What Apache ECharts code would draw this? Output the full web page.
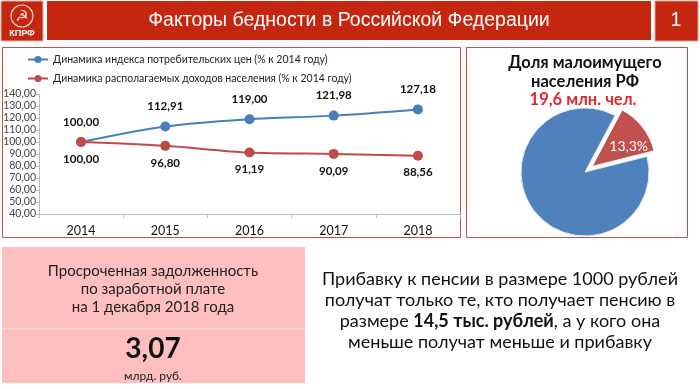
<!DOCTYPE html>
<html><head><meta charset="utf-8">
<script src="https://cdn.jsdelivr.net/npm/echarts@6/dist/echarts.min.js"></script>
<style>html,body{margin:0;padding:0;background:#fff}#c{width:700px;height:389px}</style>
</head><body><div id="c"></div>
<script>
var years = ['2014', '2015', '2016', '2017', '2018'];
var cpiValues = [100.00, 112.91, 119.00, 121.98, 127.18];
var incomeValues = [100.00, 96.80, 91.19, 90.09, 88.56];
var seriesNames = ['Динамика индекса потребительских цен (% к 2014 году)', 'Динамика располагаемых доходов населения (% к 2014 году)'];
var pieNames = ['Малоимущие', 'Остальное население'];
var pieValues = [13.3, 86.7];
var titleText = 'Факторы бедности в Российской Федерации';
var pageNumber = '1';
var pieTitle = 'Доля малоимущего\nнаселения РФ';
var pieSubtitle = '19,6 млн. чел.';
var debtTitle = 'Просроченная задолженность\nпо заработной плате\nна 1 декабря 2018 года';
var debtValue = '3,07';
var debtUnit = 'млрд. руб.';
var pensionText = 'Прибавку к пенсии в размере 1000 рублей\nполучат только те, кто получает пенсию в\nразмере {b|14,5 тыс. рублей}, а у кого она\nменьше получат меньше и прибавку';

function fmt(v) { return Number(v).toFixed(2).replace('.', ','); }

var chart = echarts.init(document.getElementById('c'), null, {renderer: 'canvas'});
var red = '#C4260F';
var option = {
  animation: false,
  backgroundColor: '#fff',
  graphic: [
    {type: 'rect', shape: {x: 1, y: 1, width: 42, height: 40}, style: {fill: red, stroke: '#e8b0a8', lineWidth: 1}},
    {type: 'circle', shape: {cx: 22, cy: 16, r: 11}, style: {fill: 'none', stroke: '#f4d0c8', lineWidth: 1.2}},
    {type: 'text', style: {text: '☭', x: 22, y: 17, align: 'center', verticalAlign: 'middle', fontSize: 15, fontFamily: 'DejaVu Sans', fill: '#f6dcd4'}},
    {type: 'text', style: {text: 'КПРФ', x: 22, y: 34, align: 'center', verticalAlign: 'middle', fontSize: 9, fontWeight: 'bold', fontFamily: 'Liberation Sans', fill: '#fff'}},
    {type: 'rect', shape: {x: 47, y: 1, width: 604, height: 39}, style: {fill: red}},
    {type: 'text', style: {text: titleText, x: 349, y: 21, align: 'center', verticalAlign: 'middle', fontSize: 19.5, fontFamily: 'Liberation Sans', fill: '#fff'}},
    {type: 'rect', shape: {x: 655, y: 1, width: 43, height: 40}, style: {fill: red, stroke: '#e0a090', lineWidth: 1}},
    {type: 'text', style: {text: pageNumber, x: 676, y: 21, align: 'center', verticalAlign: 'middle', fontSize: 19.5, fontFamily: 'Liberation Sans', fill: '#fff'}},
    {type: 'rect', shape: {x: 2.5, y: 47.5, width: 458, height: 190}, style: {fill: 'none', stroke: '#C0504D', lineWidth: 1}},
    {type: 'rect', shape: {x: 466.5, y: 47.5, width: 221, height: 190}, style: {fill: 'none', stroke: '#C0504D', lineWidth: 1}},
    {type: 'text', style: {text: pieTitle, x: 585, y: 72, align: 'center', verticalAlign: 'middle', lineHeight: 19, fontSize: 16.5, fontWeight: 'bold', fontFamily: 'Lato', fill: '#111'}},
    {type: 'text', style: {text: pieSubtitle, x: 583, y: 100, align: 'center', verticalAlign: 'middle', fontSize: 16.5, fontWeight: 'bold', fontFamily: 'Lato', fill: '#E02A2A'}},
    {type: 'rect', shape: {x: 2, y: 247, width: 303, height: 136}, style: {fill: '#FFBFBF'}},
    {type: 'line', shape: {x1: 2, y1: 328.5, x2: 305, y2: 328.5}, style: {stroke: '#FFE2E2', lineWidth: 1}},
    {type: 'text', style: {text: debtTitle, x: 153, y: 289, align: 'center', verticalAlign: 'middle', lineHeight: 18, fontSize: 15, fontFamily: 'Lato', fill: '#222'}},
    {type: 'text', style: {text: debtValue, x: 153, y: 349, align: 'center', verticalAlign: 'middle', fontSize: 28, fontWeight: 'bold', fontFamily: 'Lato', fill: '#111'}},
    {type: 'text', style: {text: debtUnit, x: 153, y: 376, align: 'center', verticalAlign: 'middle', fontSize: 12, fontFamily: 'Lato', fill: '#222'}},
    {type: 'text', style: {text: pensionText, x: 500, y: 311, align: 'center', verticalAlign: 'middle', lineHeight: 21, fontSize: 18, fontFamily: 'Lato', fill: '#111',
      rich: {b: {fontSize: 18, fontWeight: 'bold', fontFamily: 'Lato', fill: '#111'}}}}
  ],
  legend: {
    orient: 'vertical', left: 22, top: 49, itemGap: 8, itemWidth: 20, itemHeight: 9,
    textStyle: {fontSize: 10.5, fontFamily: 'Lato', color: '#222'},
    data: seriesNames
  },
  grid: {left: 39, right: 240, top: 94, bottom: 175, containLabel: false},
  xAxis: {
    type: 'category', data: years, boundaryGap: true,
    axisLine: {lineStyle: {color: '#BFBFBF'}},
    axisTick: {show: true, length: 4, lineStyle: {color: '#BFBFBF'}},
    axisLabel: {fontSize: 12.5, fontFamily: 'Lato', color: '#111', margin: 10}
  },
  yAxis: {
    type: 'value', min: 40, max: 140, interval: 10,
    axisLine: {show: true, lineStyle: {color: '#BFBFBF'}},
    axisTick: {show: true, length: 3, lineStyle: {color: '#BFBFBF'}},
    splitLine: {show: false},
    axisLabel: {fontSize: 10.5, fontFamily: 'Lato', color: '#444', margin: 3, formatter: fmt}
  },
  series: [
    {name: seriesNames[0], type: 'line', data: cpiValues, smooth: 0.3, symbol: 'circle', symbolSize: 10,
      itemStyle: {color: '#4A7EBB'}, lineStyle: {width: 2, color: '#4A7EBB'},
      label: {show: true, position: 'top', distance: 9, fontSize: 11.5, fontWeight: 'bold', fontFamily: 'Lato', color: '#111', formatter: function (p) { return fmt(p.value); }}},
    {name: seriesNames[1], type: 'line', data: incomeValues, smooth: 0.3, symbol: 'circle', symbolSize: 10,
      itemStyle: {color: '#BE4B48'}, lineStyle: {width: 2, color: '#BE4B48'},
      label: {show: true, position: 'bottom', distance: 6, fontSize: 11.5, fontWeight: 'bold', fontFamily: 'Lato', color: '#111', formatter: function (p) { return fmt(p.value); }}},
    {type: 'pie', center: [585, 172], radius: 64, startAngle: 62, clockwise: true,
      selectedMode: 'single', selectedOffset: 9, silent: true,
      labelLine: {show: false},
      labelLayout: function (p) { return p.dataIndex === 0 ? {dx: 9, dy: 2} : {}; },
      data: [
        {name: pieNames[0], value: pieValues[0], selected: true,
          itemStyle: {color: '#C0504D', borderColor: '#fff', borderWidth: 1},
          label: {show: true, position: 'inside', fontSize: 14, fontFamily: 'Lato', color: '#fff',
            formatter: function (p) { return String(p.value).replace('.', ',') + '%'; }}},
        {name: pieNames[1], value: pieValues[1],
          itemStyle: {color: '#4F81BD', borderColor: '#dfe8f3', borderWidth: 1},
          label: {show: false}}
      ]}
  ]
};
chart.setOption(option);
</script></body></html>
